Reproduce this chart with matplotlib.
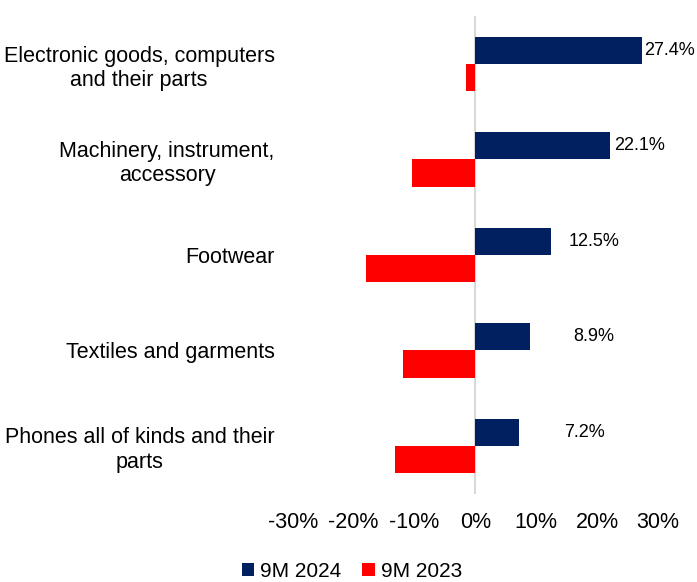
import matplotlib.pyplot as plt
import numpy as np

plt.rcParams['font.family'] = ['Liberation Sans', 'DejaVu Sans']

categories = ['Electronic goods, computers\nand their parts',
              'Machinery, instrument,\naccessory',
              'Footwear',
              'Textiles and garments',
              'Phones all of kinds and their\nparts']
vals_2024 = [27.4, 22.1, 12.5, 8.9, 7.2]
vals_2023 = [-1.6, -10.4, -18.0, -11.9, -13.2]
xticks = [-30, -20, -10, 0, 10, 20, 30]

# label nudges (px) to the right of blue bar ends
label_offsets = [2, 4, 17, 44, 45]

fig = plt.figure(figsize=(6.97, 5.82), dpi=100)
ax = fig.add_axes([0.42, 0.152, 0.524, 0.82])

y = np.arange(len(categories))
w = 0.285

ax.barh(y - w/2, vals_2024, w, color='#002060', label='9M 2024')
ax.barh(y + w/2, vals_2023, w, color='#FF0000', label='9M 2023')

for yi, v, off in zip(y, vals_2024, label_offsets):
    ax.annotate(f'{v:.1f}%', (v, yi - w/2), xytext=(off, 0), textcoords='offset pixels',
                va='center', ha='left', fontsize=13)

ax.set_xlim(-30, 30)
ax.set_ylim(len(categories) - 0.5, -0.5)
ax.set_xticks(xticks)
ax.set_xticklabels([f'{t}%' for t in xticks], fontsize=15.5)
ax.set_yticks(y)
ax.set_yticklabels(categories, fontsize=15.5, multialignment='center')
ax.tick_params(axis='both', length=0)
ax.tick_params(axis='y', pad=13)
ax.tick_params(axis='x', pad=13)

for s in ax.spines.values():
    s.set_visible(False)
ax.axvline(0, color='#D9D9D9', lw=1.5, zorder=0)

leg = fig.legend(loc='lower center', bbox_to_anchor=(0.505, -0.03), ncol=2, frameon=False,
                 fontsize=15, handlelength=0.6, handleheight=0.6, handletextpad=0.3,
                 columnspacing=1.0)

fig.savefig('out.png', dpi=100)
